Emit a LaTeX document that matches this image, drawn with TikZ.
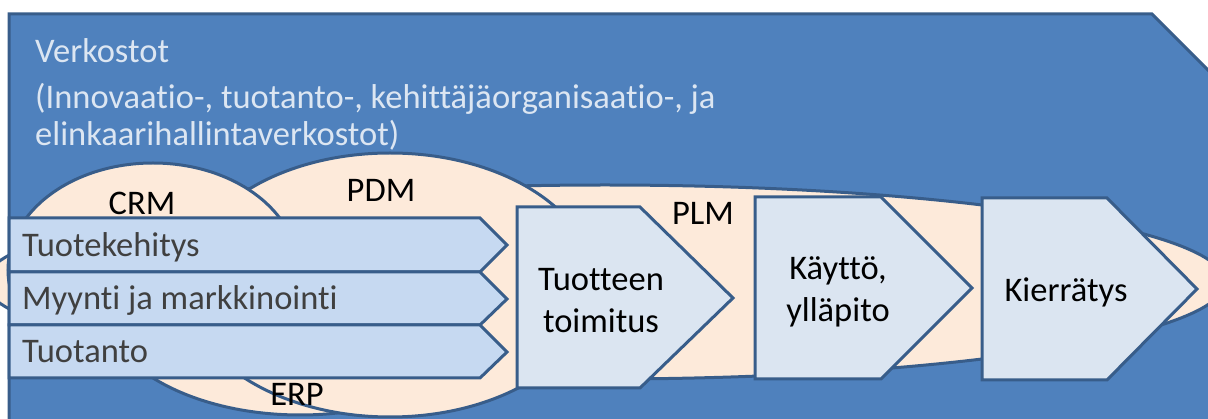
\documentclass[tikz,border=0pt]{standalone}
\usepackage{fontspec}
\setmainfont{Carlito}[Ligatures=NoCommon]
\definecolor{netblue}{HTML}{4F81BD}
\definecolor{edgeblue}{HTML}{385D8A}
\definecolor{peach}{HTML}{FDEADA}
\definecolor{rowblue}{HTML}{C6D9F1}
\definecolor{boxblue}{HTML}{DBE5F1}
\definecolor{titletext}{HTML}{DCE6F2}
\definecolor{rowtext}{HTML}{404040}
\begin{document}
\begin{tikzpicture}[
		x=1pt, y=-1pt,
		net/.style = {fill=netblue, draw=edgeblue, line width=3pt},
		sys/.style = {fill=peach, draw=edgeblue, line width=3pt},
		row/.style = {fill=rowblue, draw=edgeblue, line width=3pt},
		phase/.style = {fill=boxblue, draw=edgeblue, line width=3pt},
		txt/.style = {inner sep=0pt, font=\fontsize{34.5}{37}\selectfont},
		rowlabel/.style = {txt, anchor=base west, text=rowtext},
		syslabel/.style = {txt, anchor=base},
		phaselabel/.style = {txt, align=center, font=\fontsize{34.5}{42}\selectfont},
	]
	\path[use as bounding box] (0,0) rectangle (1208,419);
	\clip (0,0) rectangle (1208,419);
	% verkostot
	\draw[net] (9,14) -- (1152,14) -- (1240,102) -- (1240,440) -- (9,440) -- cycle;
	\node[txt, anchor=base west, text=titletext] (title) at (35,63) {Verkostot};
	\node[txt, anchor=north west, align=left, text=titletext] (subtitle) at (35,83)
		{(Innovaatio-, tuotanto-, kehittäjäorganisaatio-, ja\\elinkaarihallintaverkostot)};
	% systems
	\draw[sys] (605,282) ellipse [x radius=620pt, y radius=97pt];
	\draw[sys] (300,300) ellipse [x radius=200pt, y radius=115pt];
	\draw[sys] (390,285) ellipse [x radius=205pt, y radius=132pt];
	\draw[sys] (153,270) ellipse [x radius=145pt, y radius=107pt];
	\node[syslabel] (crm) at (142,215) {CRM};
	\node[syslabel] (pdm) at (381,202) {PDM};
	\node[syslabel] (plm) at (703,225) {PLM};
	\node[syslabel] (erp) at (297,406) {ERP};
	% processes
	\draw[row] (9,218) -- (480,218) -- (507,245) -- (480,272) -- (9,272) -- cycle;
	\draw[row] (9,272) -- (480,272) -- (507,299) -- (480,325) -- (9,325) -- cycle;
	\draw[row] (9,325) -- (480,325) -- (507,352) -- (480,378) -- (9,378) -- cycle;
	\node[rowlabel] (dev) at (22,257) {Tuotekehitys};
	\node[rowlabel] (sales) at (22,310) {Myynti ja markkinointi};
	\node[rowlabel] (prod) at (22,363) {Tuotanto};
	% life cycle
	\draw[phase] (517,207) -- (640,207) -- (733,298) -- (640,388) -- (517,388) -- cycle;
	\draw[phase] (755,197) -- (881,197) -- (972,288) -- (881,379) -- (755,379) -- cycle;
	\draw[phase] (982,198) -- (1107,198) -- (1197,289) -- (1107,380) -- (982,380) -- cycle;
	\node[phaselabel] (delivery) at (601,301) {Tuotteen\\toimitus};
	\node[phaselabel] (use) at (838,292) {Käyttö,\\ylläpito};
	\node[phaselabel] (recycle) at (1066,292) {Kierrätys};
\end{tikzpicture}
\end{document}
